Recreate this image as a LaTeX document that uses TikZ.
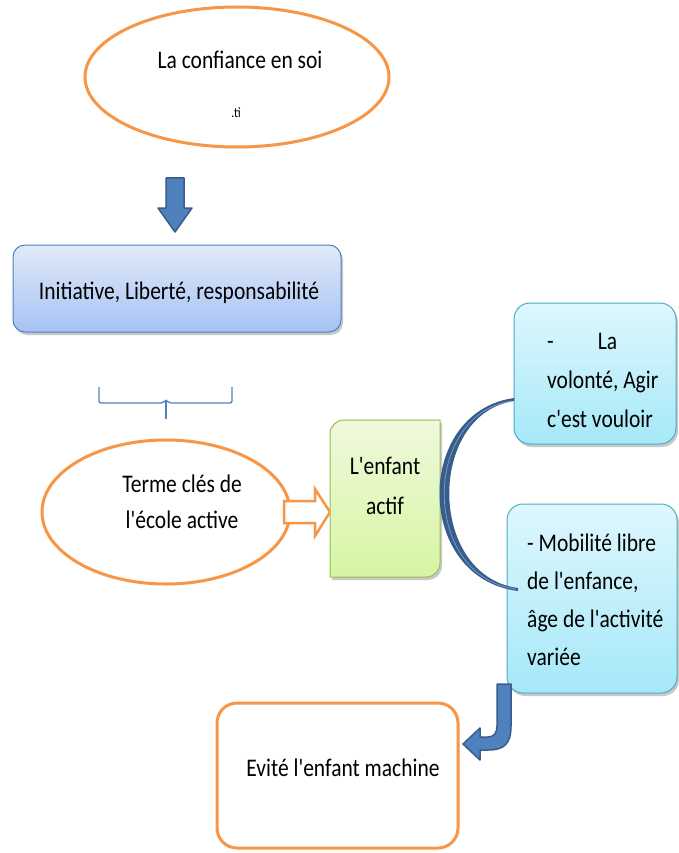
\documentclass[tikz,border=0pt]{standalone}
\usepackage{fontspec}
\setmainfont{Carlito}
\usetikzlibrary{shapes.geometric,shadows,calc}
\definecolor{orng}{HTML}{F79646}
\definecolor{bl}{HTML}{4F81BD}
\definecolor{dbl}{HTML}{385D8A}
\definecolor{grn}{HTML}{9BBB59}
\definecolor{cyn}{HTML}{4BACC6}
\definecolor{bltop}{HTML}{E2EAF9}
\definecolor{blbot}{HTML}{A6C2F3}
\definecolor{grtop}{HTML}{F0F9DC}
\definecolor{grbot}{HTML}{D6F5A3}
\definecolor{cytop}{HTML}{DEF7FD}
\definecolor{cybot}{HTML}{A6E8F8}
\newcommand\tl[1]{\scalebox{1}[1.18]{#1}}
\newcommand\q{\textquotesingle}
\tikzset{
  oval/.style={ellipse, draw=orng, line width=3pt, fill=white},
  shd/.style={drop shadow={shadow xshift=2pt, shadow yshift=-3pt, opacity=0.35, fill=black!60}},
  bluebox/.style={rectangle, rounded corners=12pt, draw=bl, line width=1pt, top color=bltop, bottom color=blbot, shd},
  cyanbox/.style={rectangle, rounded corners=16pt, draw=cyn, line width=1pt, top color=cytop, bottom color=cybot, shd},
  txt/.style={inner sep=0pt, align=center},
  blockarrow/.style={fill=bl, draw=dbl, line width=1.5pt, line join=round},
}
\begin{document}
\begin{tikzpicture}[x=1pt,y=-1pt, font=\fontsize{21.5}{26}\selectfont]
\useasboundingbox[fill=white] (0,0) rectangle (679,853);

% top ellipse
\node[oval, minimum width=304pt, minimum height=140pt] (conf) at (237,77) {};
\node[txt] (conft) at (240,60) {\tl{La confiance en soi}};
\node[txt, font=\fontsize{12}{14}\selectfont] (ti) at (236,113) {\tl{.ti}};

% down arrow
\path[blockarrow] (166,178) -- (184,178) -- (184,208) -- (192,208) -- (175,232) -- (158,208) -- (166,208) -- cycle;

% blue box
\node[bluebox, minimum width=328pt, minimum height=87pt] (ilr) at (177,288.5) {};
\node[txt] (ilrt) at (179,293) {\tl{Initiative, Liberté, responsabilité}};

% brace
\coordinate (bl) at (99,387);
\coordinate (br) at (232,387);
\coordinate (bt) at (166,419);
\draw[bl, line width=1.3pt, rounded corners=2pt] (bl) -- (99,403) -- (163,403) -- (166,400);
\draw[bl, line width=1.3pt, rounded corners=2pt] (br) -- (232,403) -- (169,403) -- (166,400);
\draw[bl, line width=1.3pt] (166,400) -- (bt);

% second ellipse
\node[oval, minimum width=248pt, minimum height=144pt] (terme) at (166,512) {};
\node[txt, font=\fontsize{21.5}{36}\selectfont] (termet) at (182,502) {\tl{Terme clés de}\\\tl{l\q école active}};

% outline arrow
\draw[orng, line width=2.5pt, fill=white, line join=miter] (284,501) -- (315,501) -- (315,489) -- (330,512) -- (315,536) -- (315,523) -- (284,523) -- cycle;

% green box
\coordinate (gsw) at (330,577);
\coordinate (gnw) at (330,420);
\coordinate (gne) at (440,420);
\coordinate (gse) at (440,577);
\path[draw=grn, line width=1pt, top color=grtop, bottom color=grbot, shd]
  (gsw) [rounded corners=14pt] -- (gnw) [sharp corners] -- (gne) [rounded corners=14pt] -- (gse) [sharp corners] -- cycle;
\node[txt, font=\fontsize{21.5}{40}\selectfont] (enf) at (385,486) {\tl{L\q enfant}\\\tl{actif}};

% right boxes
\node[cyanbox, minimum width=162pt, minimum height=141pt] (vol) at (595,373.5) {};
\node[inner sep=0pt, align=left, anchor=north west, font=\fontsize{21.5}{39}\selectfont] (volt) at (547,333)
  {\tl{-\hspace{44pt}La}\\\tl{volonté, Agir}\\\tl{c\q est vouloir}};
\node[cyanbox, minimum width=170pt, minimum height=189pt] (mob) at (592,598.5) {};
\node[inner sep=0pt, align=left, anchor=north west, font=\fontsize{21.5}{38}\selectfont] (mobt) at (527,534)
  {\tl{- Mobilité libre}\\\tl{de l\q enfance,}\\\tl{âge de l\q activité}\\\tl{variée}};

% curved bracket
\coordinate (ct) at (514,398);
\coordinate (cb) at (518,591);
\fill[dbl] (ct) .. controls (414,412) and (414,578) .. (cb) -- (518,588) .. controls (427,576) and (427,414) .. (514,401) -- cycle;
\draw[bl!80!white, line width=0.8pt] (512,401) .. controls (421,414) and (421,577) .. (516,589);

% bent arrow
\path[blockarrow] (497,684) -- (511,684) -- (511,726) .. controls (511,744) and (504,750) .. (488,750) -- (480,750) -- (480,760) -- (463,744) -- (480,728) -- (480,737) -- (488,737) .. controls (494,737) and (497,733) .. (497,726) -- cycle;

% bottom box
\node[rectangle, rounded corners=20pt, draw=orng, line width=3pt, fill=white, minimum width=241pt, minimum height=145pt] (evit) at (337.5,775.5) {};
\node[txt] (evitt) at (343,768) {\tl{Evité l\q enfant machine}};
\end{tikzpicture}
\end{document}
